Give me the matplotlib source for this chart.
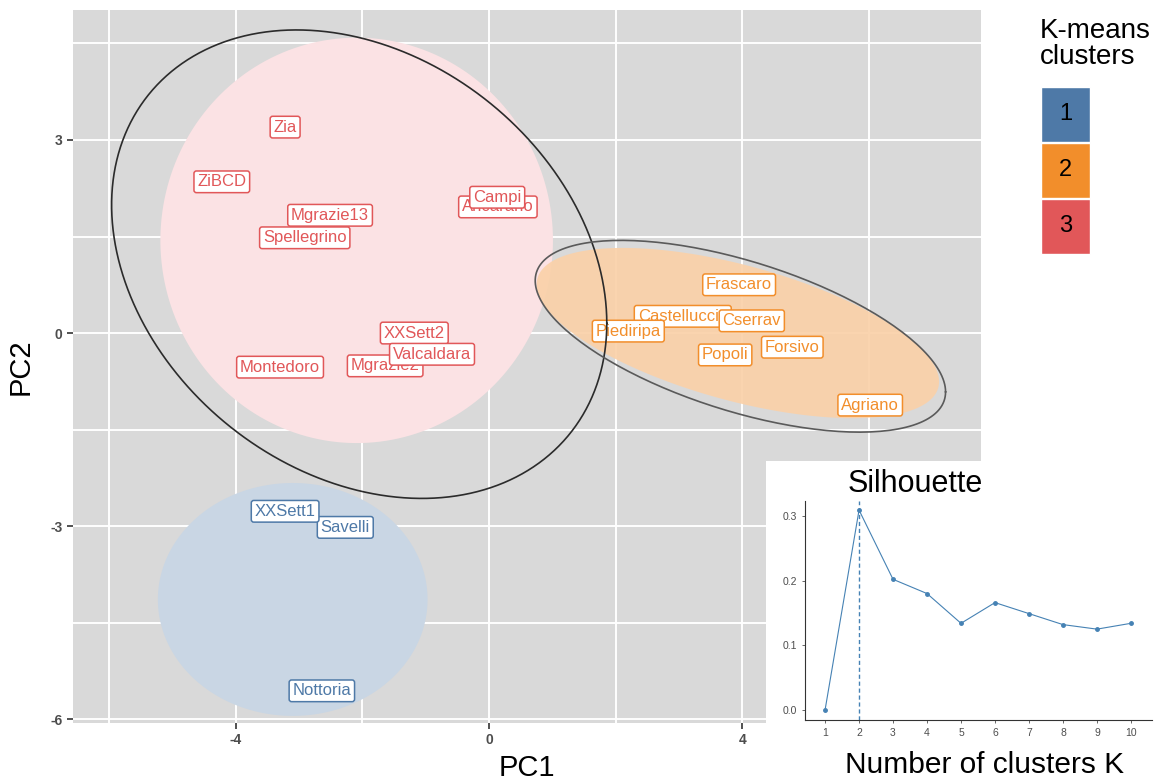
import numpy as np
import matplotlib
matplotlib.use("Agg")
import matplotlib.pyplot as plt
from matplotlib.patches import Rectangle

plt.rcParams['font.family'] = ['Liberation Sans', 'DejaVu Sans']

# cluster colours (1, 2, 3)
cluster_colors = ['#4E79A7', '#F28E2B', '#E15759']
cluster_ids = ['1', '2', '3']

# sample labels and PCA scores, in drawing order
names = ['Zia', 'ZiBCD', 'Mgrazie13', 'Spellegrino', 'Ancarano', 'Campi',
         'Montedoro', 'Mgrazie2', 'XXSett2', 'Valcaldara',
         'Frascaro', 'Castelluccio', 'Piediripa', 'Cserrav', 'Popoli', 'Forsivo', 'Agriano',
         'Savelli', 'XXSett1', 'Nottoria']
pc1 = [-3.22, -4.22, -2.51, -2.91, 0.14, 0.13,
       -3.30, -1.64, -1.18, -0.90,
       3.95, 3.06, 2.20, 4.15, 3.73, 4.79, 6.02,
       -2.27, -3.22, -2.64]
pc2 = [3.20, 2.35, 1.83, 1.48, 1.96, 2.11,
       -0.53, -0.51, 0.00, -0.33,
       0.75, 0.26, 0.03, 0.19, -0.34, -0.22, -1.12,
       -3.02, -2.77, -5.56]
cluster = [3, 3, 3, 3, 3, 3, 3, 3, 3, 3,
           2, 2, 2, 2, 2, 2, 2,
           1, 1, 1]

# ellipses: centre and covariance-like shape matrix
fill_centres = {1: (-3.10, -4.14), 2: (3.93, 0.0), 3: (-2.09, 1.44)}
fill_shapes = {1: [[2.13**2, 0.0], [0.0, 1.81**2]],
               2: [[10.1, -2.4], [-2.4, 1.75]],
               3: [[3.10**2, 0.0], [0.0, 3.15**2]]}
fill_colors = {1: '#C9D6E4', 2: '#FAD1A9', 3: '#FBE2E4'}
outline_centres = [(-2.05, 1.07), (3.97, -0.05)]
outline_shapes = [[[15.29, -3.6], [-3.6, 13.25]], [[10.5, -2.8], [-2.8, 2.22]]]
outline_colors = ['#2b2b2b', '#5a5a5a']

# silhouette
k_values = [1, 2, 3, 4, 5, 6, 7, 8, 9, 10]
silhouette = [0.0, 0.309, 0.202, 0.180, 0.134, 0.166, 0.149, 0.132, 0.125, 0.134]
best_k = 2

W, H = 1164, 781


def px_rect(x0, y0, x1, y1):
    return [x0 / W, 1 - y1 / H, (x1 - x0) / W, (y1 - y0) / H]


def ellipse_pts(c, S, n=200):
    t = np.linspace(0, 2 * np.pi, n)
    L = np.linalg.cholesky(np.array(S))
    p = L @ np.vstack([np.cos(t), np.sin(t)])
    return c[0] + p[0], c[1] + p[1]


fig = plt.figure(figsize=(W / 100, H / 100), dpi=100)

ax = fig.add_axes(px_rect(73, 10, 981, 723))
ax.set_facecolor('#D9D9D9')
ax.set_xlim(-6.57, 7.77)
ax.set_ylim(-6.06, 5.02)
for s in ax.spines.values():
    s.set_visible(False)
ax.set_xticks([-4, 0, 4])
ax.set_xticklabels(['-4', '0', '4'])
ax.set_xticks([-6, -2, 2, 6], minor=True)
ax.set_yticks([3, 0, -3, -6])
ax.set_yticklabels(['3', '0', '-3', '-6'])
ax.set_yticks([4.5, 1.5, -1.5, -4.5], minor=True)
ax.grid(True, which='both', color='white', lw=1.4)
ax.set_axisbelow(True)
ax.tick_params(which='minor', length=0)
ax.tick_params(which='major', length=4, width=1.2, color='#333333',
               labelsize=10, labelcolor='#4D4D4D')
for lab in ax.get_xticklabels() + ax.get_yticklabels():
    lab.set_fontweight('bold')
ax.set_xlabel('PC1', fontsize=21, labelpad=5)
ax.set_ylabel('PC2', fontsize=21, labelpad=11)

for k in [3, 1, 2]:
    ex, ey = ellipse_pts(fill_centres[k], fill_shapes[k])
    ax.fill(ex, ey, color=fill_colors[k], lw=0, alpha=0.92 if k == 2 else 1, zorder=1)

for i in range(len(names)):
    c = cluster_colors[cluster[i] - 1]
    ax.text(pc1[i], pc2[i], names[i], ha='center', va='center', color=c, fontsize=12,
            zorder=3, bbox=dict(boxstyle='round,pad=0.2,rounding_size=0.15', fc='white', ec=c, lw=1.1))

for c, S, col in zip(outline_centres, outline_shapes, outline_colors):
    ex, ey = ellipse_pts(c, S)
    ax.plot(ex, ey, color=col, lw=1.2, zorder=4)

# legend
fig.text(1040 / W, 1 - 18 / H, 'K-means\nclusters', fontsize=20, va='top', ha='left',
         linespacing=1.0)
for j, (lab, col) in enumerate(zip(cluster_ids, cluster_colors)):
    y0 = 87 + j * 56
    fig.patches.append(Rectangle((1041 / W, 1 - (y0 + 55) / H), 49 / W, 55 / H,
                                 transform=fig.transFigure, fc=col, ec='white', lw=1))
    fig.text(1065.5 / W, 1 - (y0 + 27.5) / H, lab, fontsize=17, ha='center', va='center')

# silhouette inset
bg = fig.add_axes(px_rect(766, 461, W, H))
bg.set_facecolor('white')
bg.set_xticks([])
bg.set_yticks([])
for s in bg.spines.values():
    s.set_visible(False)

ins = fig.add_axes(px_rect(805, 501, 1152, 720))
ins.set_xlim(0.41, 10.62)
ins.set_ylim(-0.0154, 0.323)
ins.plot(k_values, silhouette, color='#4682B4', lw=0.8, marker='o', ms=2.5)
ins.axvline(best_k, color='#4682B4', lw=1, ls=(0, (3, 2)))
ins.set_xticks(k_values)
ins.set_yticks([0.0, 0.1, 0.2, 0.3])
ins.set_yticklabels(['0.0', '0.1', '0.2', '0.3'])
ins.spines['top'].set_visible(False)
ins.spines['right'].set_visible(False)
for s in ['left', 'bottom']:
    ins.spines[s].set_color('#333333')
    ins.spines[s].set_linewidth(0.8)
ins.tick_params(labelsize=7.5, length=2.5, width=0.6, colors='#4D4D4D')
fig.text(915 / W, 1 - 484 / H, 'Silhouette', fontsize=22, ha='center', va='center')
fig.text(985 / W, 1 - 765 / H, 'Number of clusters K', fontsize=21.5, ha='center', va='center')

fig.savefig('out.png', dpi=100)
